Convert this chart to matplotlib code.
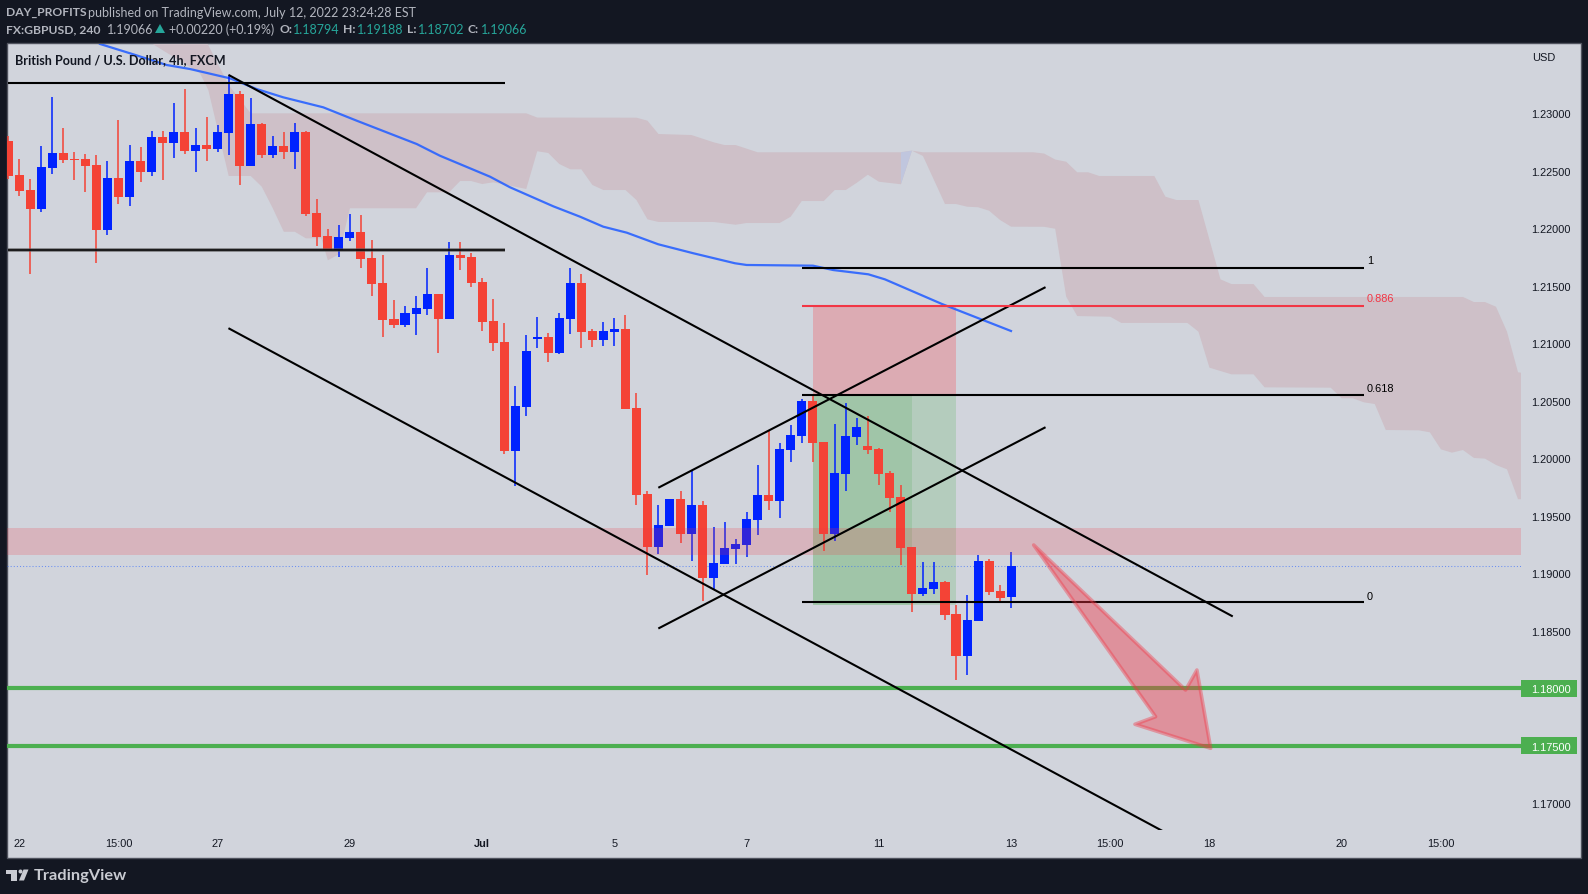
import matplotlib
matplotlib.use("Agg")
import matplotlib.pyplot as plt
from matplotlib.patches import Polygon, Rectangle, Circle

# 4h candles
opens = [1.22759, 1.22463, 1.22333, 1.22168, 1.22524, 1.22655, 1.22602, 1.22602, 1.22550, 1.21985,
         1.22437, 1.22272, 1.22585, 1.22489, 1.22794, 1.22741, 1.22837, 1.22672, 1.22724, 1.22689,
         1.22828, 1.23168, 1.22542, 1.22907, 1.22637, 1.22715, 1.22663, 1.22837, 1.22133, 1.21933,
         1.21811, 1.21915, 1.21968, 1.21741, 1.21524, 1.21211, 1.21159, 1.21255, 1.21298, 1.21428,
         1.21211, 1.21768, 1.21750, 1.21533, 1.21194, 1.21011, 1.20063, 1.20446, 1.21037, 1.21055,
         1.20915, 1.21211, 1.21524, 1.21107, 1.21028, 1.21098, 1.21124, 1.20437, 1.19689, 1.19228,
         1.19411, 1.19646, 1.19341, 1.19594, 1.18959, 1.19081, 1.19211, 1.19246, 1.19463, 1.19681,
         1.19628, 1.20072, 1.20194, 1.20498, 1.20141, 1.19341, 1.19863, 1.20185, 1.20107, 1.20081,
         1.19872, 1.19663, 1.19228, 1.18820, 1.18863, 1.18924, 1.18646, 1.18281, 1.18585, 1.19107,
         1.18846, 1.18794]
closes = [1.22455, 1.22324, 1.22168, 1.22533, 1.22655, 1.22594, 1.22594, 1.22542, 1.21985, 1.22437,
          1.22272, 1.22585, 1.22489, 1.22794, 1.22741, 1.22837, 1.22672, 1.22724, 1.22689, 1.22837,
          1.23168, 1.22542, 1.22907, 1.22637, 1.22715, 1.22663, 1.22837, 1.22124, 1.21924, 1.21808,
          1.21924, 1.21968, 1.21733, 1.21515, 1.21202, 1.21159, 1.21263, 1.21307, 1.21428, 1.21211,
          1.21768, 1.21741, 1.21524, 1.21185, 1.21002, 1.20063, 1.20455, 1.20933, 1.21055, 1.20915,
          1.21220, 1.21524, 1.21098, 1.21028, 1.21107, 1.21124, 1.20428, 1.19681, 1.19228, 1.19420,
          1.19646, 1.19341, 1.19594, 1.18959, 1.19089, 1.19220, 1.19254, 1.19472, 1.19681, 1.19628,
          1.20081, 1.20202, 1.20498, 1.20133, 1.19341, 1.19872, 1.20194, 1.20272, 1.20072, 1.19863,
          1.19655, 1.19220, 1.18820, 1.18872, 1.18924, 1.18637, 1.18281, 1.18594, 1.19107, 1.18837,
          1.18785, 1.19066]
highs = [1.22802, 1.22602, 1.22428, 1.22715, 1.23141, 1.22872, 1.22663, 1.22646, 1.22637, 1.22585,
         1.22942, 1.22724, 1.22707, 1.22846, 1.22846, 1.23089, 1.23211, 1.22872, 1.22968, 1.22898,
         1.23324, 1.23194, 1.23133, 1.22915, 1.22802, 1.22837, 1.22915, 1.22846, 1.22255, 1.21994,
         1.22028, 1.22124, 1.22115, 1.21898, 1.21768, 1.21376, 1.21324, 1.21411, 1.21654, 1.21428,
         1.21881, 1.21881, 1.21785, 1.21568, 1.21385, 1.21176, 1.20628, 1.21072, 1.21228, 1.21089,
         1.21263, 1.21654, 1.21602, 1.21124, 1.21185, 1.21220, 1.21246, 1.20568, 1.19715, 1.19594,
         1.19646, 1.19715, 1.19889, 1.19628, 1.19402, 1.19446, 1.19298, 1.19533, 1.19941, 1.20237,
         1.20133, 1.20289, 1.20515, 1.20559, 1.20141, 1.20298, 1.20481, 1.20350, 1.20368, 1.20089,
         1.19889, 1.19768, 1.19228, 1.19098, 1.19098, 1.18933, 1.18724, 1.18811, 1.19159, 1.19124,
         1.18898, 1.19188]
lows = [1.22428, 1.22281, 1.21602, 1.22141, 1.22472, 1.22568, 1.22420, 1.22315, 1.21698, 1.21941,
        1.22211, 1.22194, 1.22402, 1.22455, 1.22420, 1.22611, 1.22646, 1.22489, 1.22585, 1.22663,
        1.22637, 1.22376, 1.22542, 1.22611, 1.22611, 1.22602, 1.22515, 1.22107, 1.21846, 1.21808,
        1.21750, 1.21889, 1.21654, 1.21411, 1.21055, 1.21133, 1.21141, 1.21072, 1.21246, 1.20915,
        1.21211, 1.21637, 1.21489, 1.21107, 1.20933, 1.20037, 1.19759, 1.20368, 1.20959, 1.20837,
        1.20907, 1.21081, 1.20959, 1.20968, 1.20976, 1.20976, 1.20428, 1.19594, 1.18985, 1.19168,
        1.19411, 1.19263, 1.19107, 1.18759, 1.18854, 1.19081, 1.19081, 1.19141, 1.19333, 1.19550,
        1.19481, 1.19968, 1.20133, 1.19968, 1.19194, 1.19281, 1.19715, 1.20115, 1.20037, 1.19768,
        1.19533, 1.19072, 1.18663, 1.18802, 1.18820, 1.18594, 1.18072, 1.18115, 1.18585, 1.18811,
        1.18741, 1.18702]

# moving average
ma_x = [8.32, 11.34, 14.37, 16.49, 20.12, 22.54, 24.95, 28.58, 31.61, 37.06, 39.17, 43.71, 45.52, 49.46,
        51.88, 53.99, 56.12, 58.98, 62.16, 65.94, 67.0, 73.02, 74.86, 78.04, 79.55, 84.72, 90.99]
ma_y = [1.23603, 1.23513, 1.23420, 1.23385, 1.23304, 1.23211, 1.23139, 1.23052, 1.22936, 1.22733, 1.22631,
        1.22449, 1.22357, 1.22191, 1.22101, 1.22014, 1.21962, 1.21861, 1.21783, 1.21696, 1.21681, 1.21675,
        1.21637, 1.21600, 1.21556, 1.21342, 1.21107]

# cloud edges
cloud_top_x = [18, 20, 22, 47, 48, 57, 58, 59, 62, 64, 65, 66, 68, 81, 82, 83, 93, 94, 95, 96, 97, 98, 99,
               104, 105, 106, 108, 110, 111, 113, 114, 132, 133, 134, 135, 136, 137, 137.3]
cloud_top_y = [1.2362, 1.23246, 1.23000, 1.23000, 1.22963, 1.22962, 1.22936, 1.22820, 1.22811, 1.22748,
               1.22724, 1.22724, 1.22661, 1.22661, 1.22675, 1.22661, 1.22661, 1.22650, 1.22598, 1.22579,
               1.22487, 1.22487, 1.22455, 1.22455, 1.22275, 1.22246, 1.22246, 1.21556, 1.21515, 1.21515,
               1.21403, 1.21403, 1.21359, 1.21359, 1.21318, 1.21101, 1.20748, 1.20744]
cloud_bot_x = [12.8, 17.4, 18.15, 20, 22, 23, 24, 25, 26, 27, 28.4, 29, 30, 31, 37, 38, 40, 41, 42, 43, 44,
               47, 48, 49, 50, 51, 52, 53, 54, 56, 57, 58, 59, 64, 66, 67, 70, 71, 72, 74, 75, 76, 77, 78,
               79, 81, 82, 83, 85, 86, 87, 88, 89, 90, 91, 94, 95, 96, 97, 100, 101, 107, 108, 109, 111,
               113, 114, 120, 121, 122, 123, 124, 125, 128, 129, 130, 131, 132, 133, 134, 135, 136, 137, 137.3]
cloud_bot_y = [1.2362, 1.23348, 1.23203, 1.22455, 1.22455, 1.22362, 1.22174, 1.21970, 1.21970, 1.21913,
               1.21913, 1.21722, 1.21774, 1.22174, 1.22174, 1.22313, 1.22313, 1.22411, 1.22411, 1.22385,
               1.22400, 1.22342, 1.22670, 1.22655, 1.22559, 1.22513, 1.22513, 1.22377, 1.22333, 1.22333,
               1.22246, 1.22078, 1.22055, 1.22055, 1.22031, 1.22046, 1.22046, 1.22101, 1.22237, 1.22237,
               1.22333, 1.22333, 1.22396, 1.22466, 1.22405, 1.22383, 1.22675, 1.22629, 1.22211, 1.22211,
               1.22188, 1.22183, 1.22153, 1.22072, 1.22014, 1.22013, 1.21996, 1.21405, 1.21237, 1.21231,
               1.21177, 1.21177, 1.21101, 1.20788, 1.20730, 1.20730, 1.20617, 1.20614, 1.20522, 1.20522,
               1.20487, 1.20472, 1.20246, 1.20243, 1.20226, 1.20078, 1.20049, 1.20072, 1.20003, 1.19997,
               1.19942, 1.19904, 1.19644, 1.19644]
twist_x = [81, 82, 81]
twist_y = [1.22661, 1.22675, 1.22383]

# drawings
hline_x = [-0.05, 45.07]
hline_levels = [1.23263, 1.21811]
trend_lines = [([20.06, 111.03], [1.23330, 1.18629]),
               ([20.06, 106.0], [1.21127, 1.16694]),
               ([59.07, 94.04], [1.19748, 1.21484]),
               ([59.07, 94.04], [1.18524, 1.20266])]
fib_x = [72.0, 123.0]
fib_levels = [1.21655, 1.21324, 1.20550, 1.18753]
fib_names = ["1", "0.886", "0.618", "0"]
fib_colors = ["black", "#f23645", "black", "black"]
fib_label_y = [1.21724, 1.21391, 1.20611, 1.18801]
box_x = [73.02, 81.97, 86.0]
box_y = [1.21324, 1.20550, 1.18727]
zone = [1.19159, 1.19394]
last_close = 1.19066
targets = [1.18, 1.175]
arrow_x = [93.05, 106.83, 107.86, 109.11, 102.24, 104.11]
arrow_y = [1.19246, 1.17985, 1.18159, 1.17478, 1.17687, 1.17753]

price_ticks = [1.17, 1.175, 1.18, 1.185, 1.19, 1.195, 1.20, 1.205, 1.21, 1.215, 1.22, 1.225, 1.23]
time_ticks = [1, 10, 19, 31, 43, 55, 67, 79, 91, 100, 109, 121, 130]
time_labels = ["22", "15:00", "27", "29", "Jul", "5", "7", "11", "13", "15:00", "18", "20", "15:00"]

W, H = 1588, 895
RED = "#f44336"
BLUE = "#0022ff"
PANEL = "#d1d4dc"
tick_font = "Liberation Sans"
head_font = "Lato"

fig = plt.figure(figsize=(W / 100, H / 100), dpi=100, facecolor="#131722")

# page furniture, in pixels
bg = fig.add_axes([0, 0, 1, 1], zorder=0)
bg.set_xlim(0, W)
bg.set_ylim(H, 0)
bg.axis("off")
bg.add_patch(Rectangle((7, 43.5), 1574, 815, fc=PANEL, ec="#50535e", lw=1))

head_size = 9.0
bold_size = 8.7
bg.text(6, 12.5, "DAY_PROFITS", color="#b2b5be", fontsize=bold_size, fontweight="bold", va="center", family=head_font)
bg.text(88, 12.5, "published on TradingView.com, July 12, 2022 23:24:28 EST", color="#b2b5be",
        fontsize=head_size, va="center", family=head_font)
teal = "#26a69a"
grey = "#b2b5be"
row2 = [(6.5, "FX:GBPUSD, 240", grey, "bold"), (106.5, "1.19066", grey, "normal"),
        (169, "+0.00220 (+0.19%)", grey, "normal"), (279, "O:", grey, "bold"), (293, "1.18794", teal, "normal"),
        (343, "H:", grey, "bold"), (357, "1.19188", teal, "normal"), (407, "L:", grey, "bold"),
        (418, "1.18702", teal, "normal"), (468, "C:", grey, "bold"), (481, "1.19066", teal, "normal")]
for x, s, c, w in row2:
    bg.text(x, 29.5, s, color=c, fontsize=bold_size if w == "bold" else head_size, fontweight=w, va="center",
            family=head_font)
bg.add_patch(Polygon([[155, 34], [165, 34], [160, 25]], fc=teal, ec="none"))

bg.text(1531.7, 58, "USD", color="#131722", fontsize=7.9, va="center", family=tick_font)

# logo
logo = "#c9cbd2"
bg.add_patch(Polygon([[6, 870.5], [16.5, 870.5], [16.5, 881.5], [10.5, 881.5], [10.5, 874.5], [6, 874.5]], fc=logo, ec="none"))
bg.add_patch(Circle((20.5, 872.5), 2, fc=logo, ec="none"))
bg.add_patch(Polygon([[23.5, 870.5], [28.5, 870.5], [24, 881.5], [19, 881.5]], fc=logo, ec="none"))
bg.text(33.5, 876.5, "TradingView", color=logo, fontsize=11.8, fontweight="bold", va="center", family=head_font)

# chart, x in bars and y in price
ax = fig.add_axes([7 / W, 1 - 830.5 / H, 1514 / W, 786 / H], zorder=1)
ax.patch.set_alpha(0)
for s in ax.spines.values():
    s.set_visible(False)
ax.set_xlim(-0.118, 137.27)
ax.set_ylim(1.16772, 1.23607)

cloud = list(zip(cloud_top_x, cloud_top_y)) + list(zip(cloud_bot_x, cloud_bot_y))[::-1]
ax.add_patch(Polygon(cloud, fc="#cec0c8", ec="none", zorder=1))
ax.add_patch(Polygon(list(zip(twist_x, twist_y)), fc="#c0c6de", ec="none", zorder=1.1))

ax.fill_between(box_x[:2], box_y[0], box_y[1], color="#dcabb3", lw=0, zorder=1.5)
ax.fill_between(box_x[1:], box_y[0], box_y[1], color="#dcabb3", lw=0, zorder=1.5)
ax.fill_between(box_x[:2], box_y[1], box_y[2], color="#a0c5a8", lw=0, zorder=1.5)
ax.fill_between(box_x[1:], box_y[1], box_y[2], color="#b4ccbd", lw=0, zorder=1.5)

ax.axhline(last_close, color="#2962ff", alpha=0.6, lw=0.75, ls=(0, (1, 2)), zorder=2)
ax.plot(ma_x, ma_y, color="#2962ff", lw=1.6, alpha=0.9, zorder=2.2)

for i in range(len(opens)):
    c = BLUE if closes[i] >= opens[i] else RED
    ax.vlines(i, lows[i], highs[i], color=c, lw=1.1, zorder=3)
    ax.bar(i, abs(closes[i] - opens[i]), bottom=min(opens[i], closes[i]), width=0.82, color=c, lw=0, zorder=3.1)

ax.axhspan(zone[0], zone[1], color="#f23645", alpha=0.2, lw=0, zorder=4)

for y in targets:
    ax.axhline(y, color="#4caf50", lw=3.0, zorder=4.5)
    ax.add_patch(Rectangle((1, y - 0.00074), 56 / 1514, 0.00148, transform=ax.get_yaxis_transform(),
                           fc="#4caf50", ec="none", clip_on=False, zorder=1))

ax.hlines(hline_levels[0], hline_x[0], hline_x[1], color="black", lw=1.5, zorder=5)
ax.hlines(hline_levels[1], hline_x[0], hline_x[1], color="#555555", lw=2.6, alpha=0.7, zorder=5)
ax.hlines(hline_levels[1], hline_x[0], hline_x[1], color="black", lw=1.1, zorder=5)
for xs, ys in trend_lines:
    ax.plot(xs, ys, color="black", lw=1.5, zorder=5)
for lvl, name, c, ly in zip(fib_levels, fib_names, fib_colors, fib_label_y):
    ax.hlines(lvl, fib_x[0], fib_x[1], color=c, lw=1.5, zorder=5)
    ax.text(123.3, ly, name, color=c, fontsize=7.9, va="center", family=tick_font, zorder=5)

ax.add_patch(Polygon(list(zip(arrow_x, arrow_y)), fc=(242 / 255, 54 / 255, 69 / 255, 0.42),
                     ec=(242 / 255, 54 / 255, 69 / 255, 0.4), lw=2.6, joinstyle="round", zorder=6))

# title sits on top of the drawings
ax.text(8 / 1514, 1 - 15.5 / 786, "British Pound / U.S. Dollar, 4h, FXCM", transform=ax.transAxes, color="#131722",
        fontsize=9.1, fontweight="bold", va="center", family=head_font, zorder=10)

ax.yaxis.tick_right()
ax.set_yticks(price_ticks)
ax.set_yticklabels(["%.5f" % p for p in price_ticks], family=tick_font, fontsize=7.9, color="#131722")
for lab, p in zip(ax.get_yticklabels(), price_ticks):
    if p in targets:
        lab.set_color("white")
ax.tick_params(axis="y", length=0, pad=7.6)
ax.set_xticks(time_ticks)
ax.set_xticklabels(time_labels, family=tick_font, fontsize=7.9, color="#131722")
ax.get_xticklabels()[time_labels.index("Jul")].set_fontweight("bold")
ax.tick_params(axis="x", length=0, pad=6.3)

fig.savefig("out.png", dpi=100, facecolor=fig.get_facecolor())
